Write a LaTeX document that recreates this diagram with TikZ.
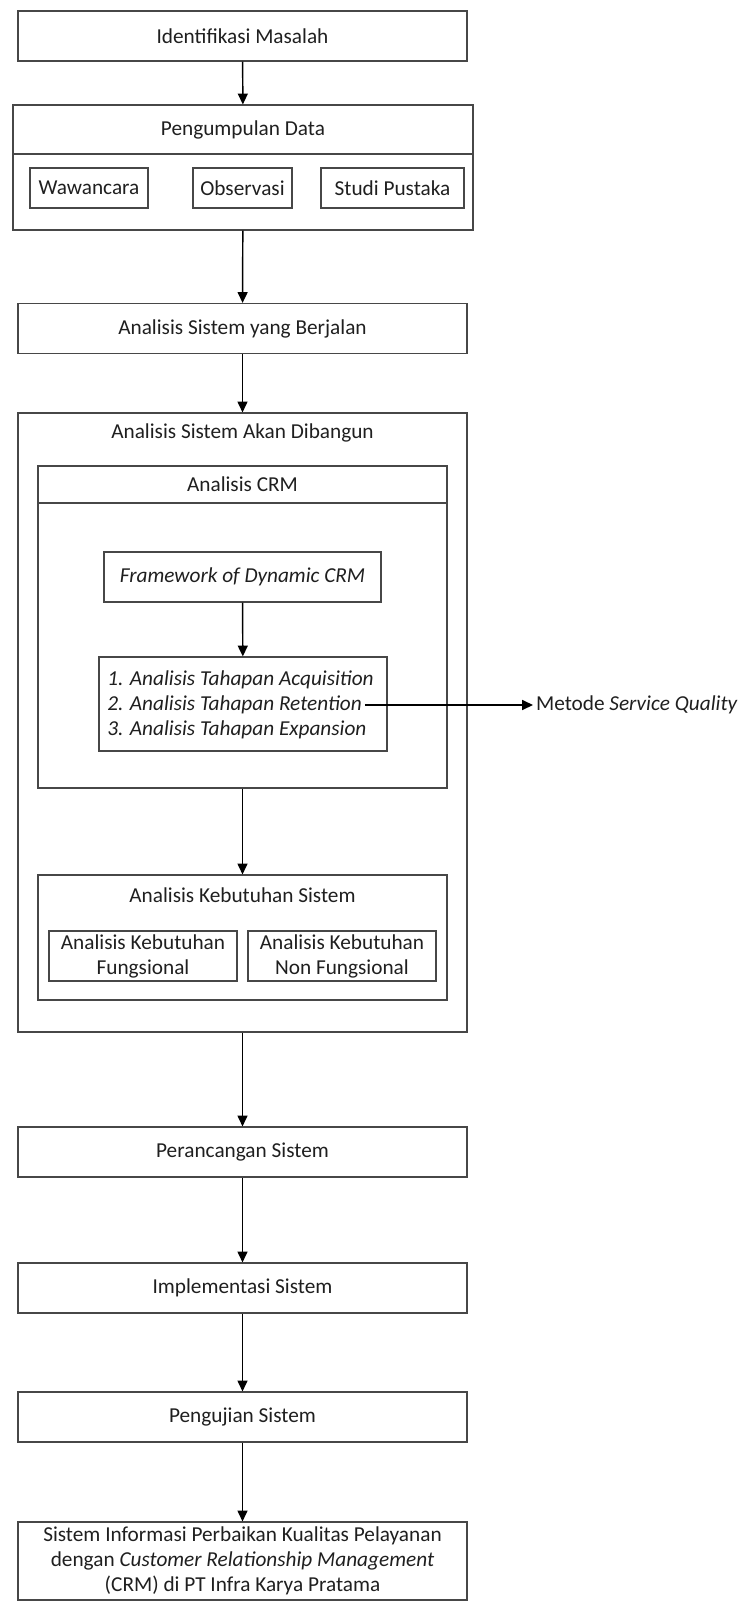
\documentclass[tikz,border=0pt]{standalone}
\usepackage{fontspec}
\setmainfont{Carlito}
\usetikzlibrary{arrows.meta}
\newcommand{\unitpx}{0.55pt}
\colorlet{rule}{black!72}
\colorlet{ink}{black!88}
\tikzset{
  card/.style     ={draw=rule, line width=0.6pt, inner sep=0pt, align=center,
                    text=ink, font=\fontsize{11.7}{13.75}\selectfont},
  stage/.style    ={card, minimum width=449*\unitpx, minimum height=50*\unitpx},
  group/.style    ={draw=rule, line width=0.6pt, inner sep=0pt},
  heading/.style  ={inner sep=0pt, text=ink, font=\fontsize{11.7}{13.75}\selectfont},
  item/.style     ={heading, anchor=west, font=\fontsize{11.7}{13.75}\selectfont\itshape},
  flowarrow/.style={-{Triangle[length=6pt,width=5.5pt]}, black, line width=0.8pt},
}

\begin{document}
\begin{tikzpicture}[x=\unitpx, y=-\unitpx]
\useasboundingbox (0,0) rectangle (745,1602);

% Top of the flow
\node[stage] (IM) at (242.5,36) {Identifikasi Masalah};

% Data collection with its three methods
\node[group, minimum width=460*\unitpx, minimum height=125*\unitpx] (PD) at (243,167.5) {};
\node[card, minimum width=460*\unitpx, minimum height=49*\unitpx] (PDh) at (243,129.5) {Pengumpulan Data};
\node[card, minimum width=118*\unitpx, minimum height=40*\unitpx] (WW) at (89,188) {Wawancara};
\node[card, minimum width=99*\unitpx, minimum height=40*\unitpx] (OB) at (242.5,188) {Observasi};
\node[card, minimum width=143*\unitpx, minimum height=40*\unitpx] (SP) at (392.5,188) {Studi Pustaka};
\draw[flowarrow] (IM) -- (PDh);

\node[stage] (BJ) at (242.5,328.5) {Analisis Sistem yang Berjalan};
\draw[flowarrow] (PD) -- (BJ);

% System to be built: CRM analysis and requirements
\node[group, minimum width=449*\unitpx, minimum height=619*\unitpx] (ASD) at (242.5,722.5) {};
\node[heading] (ASDt) at (242.5,433) {Analisis Sistem Akan Dibangun};
\draw[flowarrow] (BJ) -- (ASD);

\node[group, minimum width=409*\unitpx, minimum height=322*\unitpx] (CRM) at (242.5,627) {};
\node[card, minimum width=409*\unitpx, minimum height=37*\unitpx] (CRMh) at (242.5,484.5) {Analisis CRM};
\node[card, minimum width=277*\unitpx, minimum height=50*\unitpx, font=\fontsize{11.7}{13.75}\selectfont\itshape]
  (FW) at (242.5,577) {Framework of Dynamic CRM};
\node[card, minimum width=288*\unitpx, minimum height=94*\unitpx] (LS) at (243,704) {};
\node[item] (L1) at (107,680) {1. Analisis Tahapan Acquisition};
\node[item] (L2) at (107,705) {2. Analisis Tahapan Retention};
\node[item] (L3) at (107,730) {3. Analisis Tahapan Expansion};
\draw[flowarrow] (FW) -- (LS);

\node[heading, anchor=west, inner sep=1.5pt] (SQ) at (533,705) {Metode \textit{Service Quality}};
\draw[flowarrow] ([xshift=1.5pt]L2.east) -- (SQ.west);

\node[group, minimum width=409*\unitpx, minimum height=125*\unitpx] (KS) at (242.5,937.5) {};
\node[heading] (KSt) at (242.5,895) {Analisis Kebutuhan Sistem};
\node[card, minimum width=188*\unitpx, minimum height=50*\unitpx] (KF) at (143,956)
  {Analisis Kebutuhan\\Fungsional};
\node[card, minimum width=188*\unitpx, minimum height=50*\unitpx] (KN) at (342,956)
  {Analisis Kebutuhan\\Non Fungsional};
\draw[flowarrow] (CRM) -- (KS);

% Remaining stages
\node[stage] (PS) at (242.5,1152) {Perancangan Sistem};
\node[stage] (IS) at (242.5,1288) {Implementasi Sistem};
\node[stage] (UJ) at (242.5,1417) {Pengujian Sistem};
\node[stage, minimum height=78*\unitpx] (HS) at (242.5,1561)
  {Sistem Informasi Perbaikan Kualitas Pelayanan\\
   dengan \textit{Customer Relationship Management}\\
   (CRM) di PT Infra Karya Pratama};
\draw[flowarrow] (ASD) -- (PS);
\draw[flowarrow] (PS) -- (IS);
\draw[flowarrow] (IS) -- (UJ);
\draw[flowarrow] (UJ) -- (HS);

\end{tikzpicture}
\end{document}
